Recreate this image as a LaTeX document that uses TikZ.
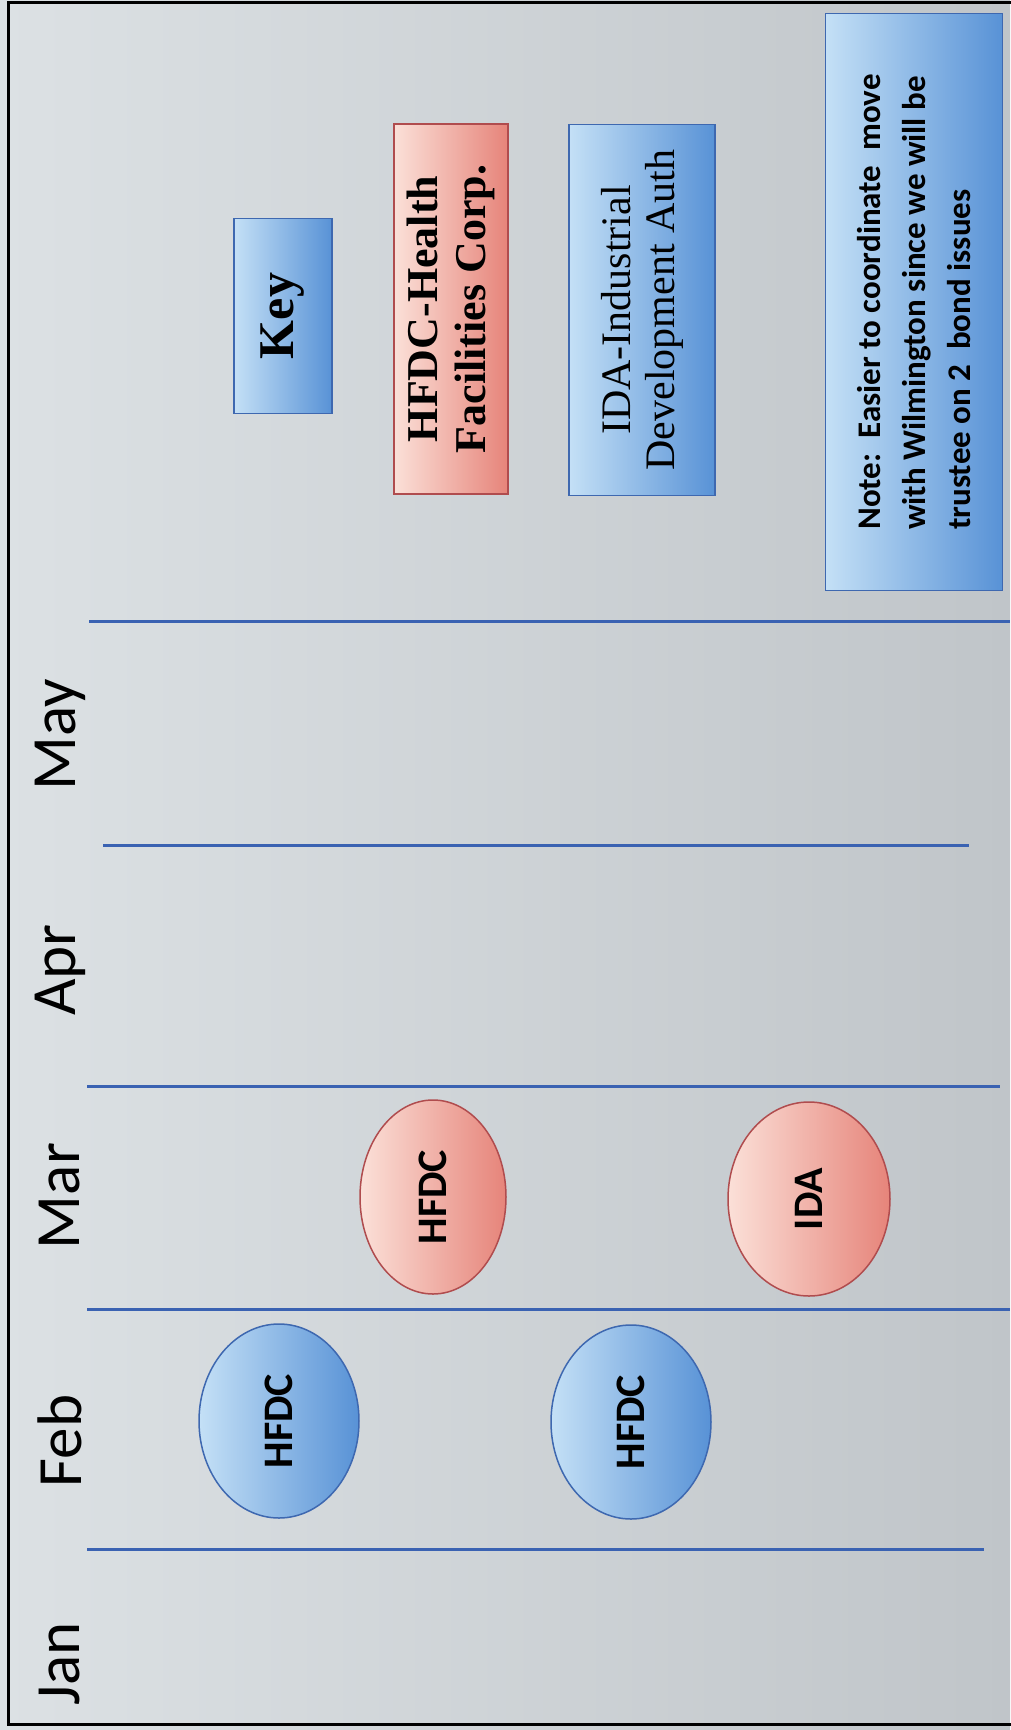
\documentclass[tikz,border=0pt]{standalone}
\usepackage{fontspec}
\newfontfamily\calibfont{Carlito}
\newfontfamily\keyfont{Liberation Serif}
\usetikzlibrary{shapes.geometric}

\definecolor{bglight}{RGB}{220,225,228}
\definecolor{bgdark}{RGB}{192,197,201}
\definecolor{bluelight}{RGB}{196,224,246}
\definecolor{bluedark}{RGB}{88,146,214}
\definecolor{blueline}{RGB}{62,104,176}
\definecolor{redlight}{RGB}{251,224,216}
\definecolor{reddark}{RGB}{230,132,122}
\definecolor{redline}{RGB}{176,76,78}
\definecolor{sepline}{RGB}{58,98,178}

\begin{document}
\begin{tikzpicture}[x=1pt,y=-1pt,
    month/.style={rotate=90,inner sep=0pt,font=\calibfont\fontsize{63}{70}\selectfont},
    bluefill/.style={draw=blueline,line width=1.5pt,left color=bluelight,right color=bluedark},
    redfill/.style={draw=redline,line width=1.5pt,left color=redlight,right color=reddark},
    meeting/.style={ellipse,rotate=90,minimum width=194pt,inner sep=0pt,
      font=\calibfont\bfseries\fontsize{42}{48}\selectfont},
    keybox/.style={rectangle,rotate=90,inner sep=0pt},
    monthline/.style={draw=sepline,line width=3pt}]
    \useasboundingbox (0,0) rectangle (1010,1730);
    % background and frame
    \shade[left color=bglight,right color=bgdark] (0,0) rectangle (1010,1730);
    \draw[line width=3pt] (1016,2) -- (8,2) -- (8,1724) -- (1016,1724);
    % month columns
    \draw[monthline] (87,1549) -- (984,1549);
    \draw[monthline] (87,1309) -- (1010,1309);
    \draw[monthline] (87,1086) -- (1000,1086);
    \draw[monthline] (103,845) -- (969,845);
    \draw[monthline] (89,621) -- (1010,621);
    \node[month] (jan) at (60,1664) {Jan};
    \node[month] (feb) at (60,1441) {Feb};
    \node[month] (mar) at (60,1196) {Mar};
    \node[month] (apr) at (60,970) {Apr};
    \node[month] (may) at (60,735) {May};
    % meetings
    \node[meeting,bluefill,minimum height=160pt] (febhfdc) at (279,1421) {HFDC};
    \node[meeting,bluefill,minimum height=160pt] (febhfdcb) at (631,1422) {HFDC};
    \node[meeting,redfill,minimum height=146pt] (marhfdc) at (433,1197) {HFDC};
    \node[meeting,redfill,minimum height=162pt] (marida) at (809,1199) {IDA};
    % key
    \node[keybox,bluefill,minimum width=195pt,minimum height=98pt,
      font=\keyfont\bfseries\fontsize{50}{54}\selectfont] (key) at (283,316) {Key};
    \node[keybox,redfill,minimum width=370pt,minimum height=114pt,align=center,
      font=\keyfont\bfseries\fontsize{44}{48}\selectfont] (hfdckey) at (451,309)
      {HFDC-Health\\Facilities Corp.};
    \node[keybox,bluefill,minimum width=371pt,minimum height=146pt,align=center,
      font=\keyfont\fontsize{42}{44}\selectfont] (idakey) at (642,310)
      {IDA-Industrial\\Development Auth};
    \node[keybox,bluefill,minimum width=577pt,minimum height=177pt,align=left,
      font=\calibfont\bfseries\fontsize{33}{45}\selectfont] (note) at (914,302)
      {Note:\ \ Easier to coordinate\ \ move\\with Wilmington since we will be\\trustee on 2\ \ bond issues};
\end{tikzpicture}
\end{document}
